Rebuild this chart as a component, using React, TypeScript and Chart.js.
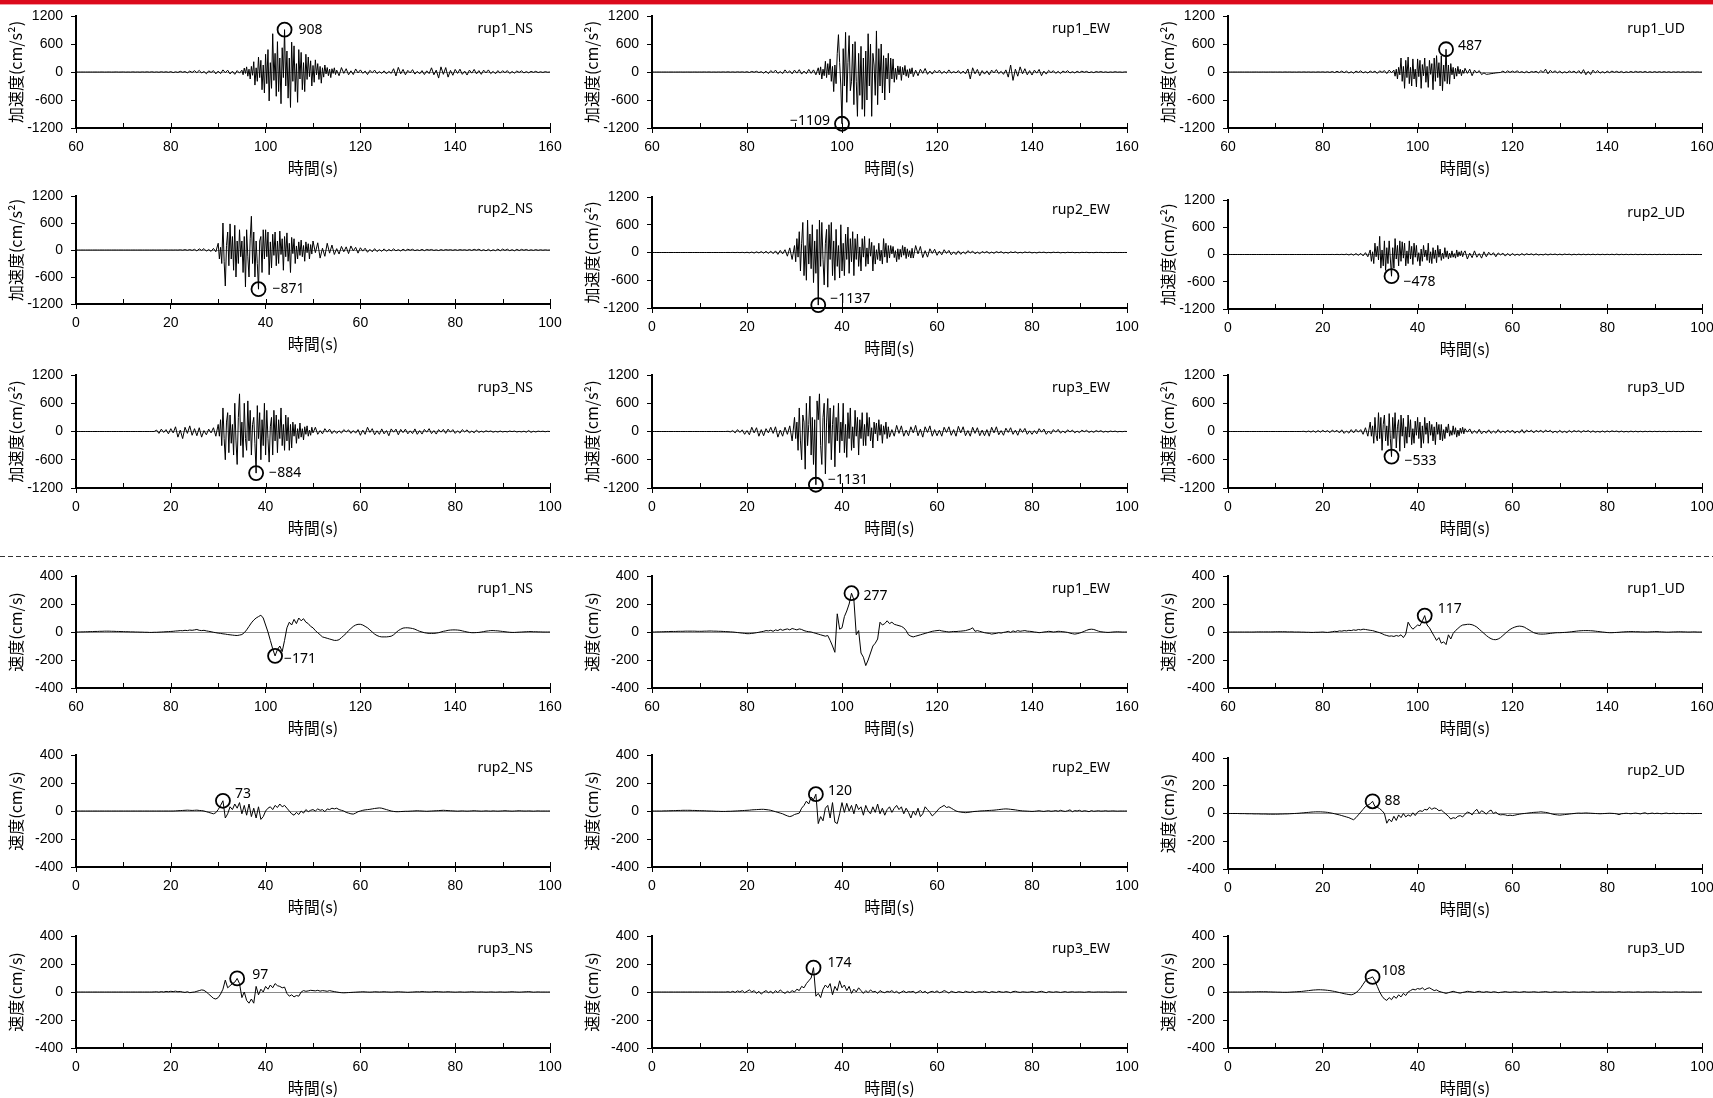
import React, { useEffect, useRef } from 'react';
import { Chart, registerables } from 'chart.js';
Chart.register(...registerables);

// ---------------- DATA ----------------
// time ranges (s)
const T_RUP1 = [60, 160];
const T_RUP23 = [0, 100];
const X_LABELS_RUP1 = [60, 80, 100, 120, 140, 160];
const X_LABELS_RUP23 = [0, 20, 40, 60, 80, 100];
const Y_TICKS_ACC = [-1200, -600, 0, 600, 1200];
const Y_TICKS_VEL = [-400, -200, 0, 200, 400];

// strong-motion windows (s): sampled at 0.25 s; outside them 0.5 s
const W_A1_NS = [95, 115];
const W_A1_EW = [95, 115];
const W_A1_UD = [95, 110];
const W_A2_NS = [30, 50];
const W_A2_EW = [30, 55];
const W_A2_UD = [30, 50];
const W_A3_NS = [30, 50];
const W_A3_EW = [30, 50];
const W_A3_UD = [30, 50];

// ---- acceleration (cm/s2) ----
const A1_NS_PRE = [
  0,0,0,0,0,0,0,0,0,0,
  0,1,-1,0,1,-1,0,2,-1,0,
  2,-2,1,-2,3,-2,2,-3,3,-2,
  4,-3,5,-4,3,-5,6,-4,5,-6,
  8,-12,5,-9,15,-6,10,-18,20,-10,
  28,-15,35,-22,12,-38,25,-10,30,-40,
  20,-35,45,-15,38,-42,18,-50,30,-25,
];
const A1_NS_MAIN = [
  40,-60,85,-30,110,-90,60,-150,120,-70,
  220,-280,90,-200,320,-120,250,-380,150,-450,
  380,-250,480,-620,200,-350,820,-180,400,-520,
  650,-420,300,-680,520,-120,908,-300,450,-560,
  300,-760,640,-200,560,-420,180,-650,480,-150,
  420,-380,200,-420,380,-160,320,-100,240,-300,
  140,-220,260,-60,180,-160,120,-240,90,-110,
  150,-40,95,-80,60,-120,70,-30,90,-55,
];
const A1_NS_POST = [
  40,-80,95,-30,70,-60,25,-55,65,-20,
  45,-30,20,-55,35,-15,40,-35,10,-30,
  25,-40,15,-30,70,-85,100,-40,55,-60,
  35,-20,50,-45,15,-40,30,-55,25,-35,
  90,-60,40,-130,110,-50,95,-110,35,-70,
  55,-30,60,-50,20,-65,40,-25,55,-40,
  30,-50,40,-20,45,-35,15,-38,30,-25,
  28,-15,30,-32,12,-25,22,-10,25,-20,
  10,-18,14,-8,15,-12,6,-10,8,-5,
  0,
];

const A1_EW_PRE = [
  0,0,0,0,0,0,0,0,0,0,
  0,0,1,-1,0,1,-1,0,1,-1,
  1,-1,2,-1,2,-2,1,-2,2,-2,
  3,-2,4,-3,3,-4,5,-3,4,-5,
  6,-10,12,-5,15,-12,8,-25,18,-35,
  30,-15,40,-30,10,-35,45,-20,25,-40,
  40,-25,50,-45,20,-38,55,-30,45,-60,
];
const A1_EW_MAIN = [
  90,-60,110,-150,60,-80,230,-120,180,-60,
  280,-200,120,-420,150,-250,400,800,200,-300,
  -1109,500,-300,850,-650,200,780,-400,-200,600,
  -700,650,-200,-950,400,-500,550,-800,300,-950,
  450,-600,820,-300,600,-950,400,150,-500,880,
  -700,500,-300,600,-450,350,-600,300,-150,400,
  -450,300,-150,280,-220,80,-160,130,-60,120,
  -180,100,-60,140,-90,50,-120,70,-40,90,
];
const A1_EW_POST = [
  -100,40,-80,60,-30,75,-50,20,-45,35,
  -20,40,-35,15,-30,45,-25,10,-20,30,
  -35,20,-40,65,-150,90,-40,55,-80,30,
  -45,25,-60,40,-20,50,-35,15,-50,45,
  -110,150,-180,60,-90,110,-40,70,-60,30,
  -65,40,-25,55,-80,20,-45,35,-15,28,
  -30,15,-35,22,-10,28,-22,8,-20,16,
  -12,18,-6,14,-15,5,-14,10,-4,10,
  -8,5,-9,3,-6,7,-4,2,-6,3,
  0,
];

const A1_UD_PRE = [
  0,0,0,0,0,0,0,0,0,0,
  0,0,1,-1,0,1,-1,0,1,-1,
  1,-1,1,-2,2,-1,2,-2,1,-2,
  2,-2,3,-2,3,-3,2,-3,3,-2,
  4,-5,6,-8,10,-12,15,-10,20,-15,
  18,-22,8,-25,20,-10,25,-20,8,-22,
  20,-10,18,-30,25,-8,30,-35,40,-15,
];
const A1_UD_MAIN = [
  40,-90,60,-150,100,-60,300,-200,120,-350,
  250,-120,320,-250,100,-300,280,-150,60,-320,
  280,-100,250,-350,160,-80,300,-220,120,-330,
  250,-50,180,-380,300,-200,350,-120,200,-300,
  350,-400,150,-200,487,-250,150,-260,180,-60,
  100,-150,80,-90,120,-40,60,-80,40,-30,
];
const A1_UD_POST = [
  80,-30,60,-80,40,-20,30,-55,-20,-50,
  -45,-35,-30,-20,-15,-10,20,-15,25,-10,
  20,-8,25,-12,10,-18,15,-20,12,-5,
  15,-20,30,-10,60,-40,35,-12,25,-20,
  20,-25,8,-20,22,-10,20,-25,30,-35,
  50,-60,15,-55,40,-20,30,-25,10,-22,
  18,-15,20,-8,15,-12,14,-16,6,-10,
  12,-10,14,-6,10,-8,12,-10,8,-9,
  10,-8,9,-7,8,-6,7,-8,6,-5,
  6,-5,5,-4,5,-4,4,-3,3,-2,
  0,
];

const A2_NS_PRE = [
  0,0,0,0,0,0,0,0,0,0,
  0,0,0,0,0,0,0,0,0,0,
  0,0,0,0,0,0,0,0,0,0,
  0,0,0,0,0,0,0,0,1,-1,
  1,-1,2,-2,5,-4,8,-6,10,-8,
  15,-20,25,-8,30,-25,10,-30,35,-40,
];
const A2_NS_MAIN = [
  150,-200,60,-300,600,-250,-800,100,400,-350,
  580,-200,300,-450,550,-600,200,-300,450,-150,
  200,-500,300,-820,450,-150,-600,250,750,-300,
  400,-600,200,-300,-871,200,300,-500,450,-200,
  450,-150,400,-550,180,-400,350,-120,400,-350,
  200,-300,420,-100,250,-450,300,-150,380,-250,
  150,-500,280,-80,250,-300,90,-200,180,-120,
  220,-150,100,-250,180,-60,140,-200,120,-90,
];
const A2_NS_POST = [
  200,-60,160,-180,40,-140,150,-70,110,-100,
  30,-90,80,-40,70,-80,90,-20,60,-70,
  50,-25,40,-50,15,-40,30,-35,10,-30,
  25,-28,12,-20,25,-18,8,-22,18,-15,
  18,-6,16,-14,5,-12,14,-15,12,-4,
  12,-10,4,-12,9,-8,10,-3,8,-7,
  8,-7,9,-3,7,-8,12,-10,15,-5,
  18,-15,8,-18,15,-20,6,-15,20,-18,
  20,-10,18,-15,8,-18,15,-12,14,-6,
  12,-10,5,-8,9,-7,6,-5,4,-3,
  0,
];

const A2_EW_PRE = [
  0,0,0,0,0,0,0,0,0,0,
  0,0,0,0,0,0,0,0,0,0,
  0,0,0,0,0,0,0,0,0,0,
  0,0,1,-1,2,-2,3,-3,4,-5,
  6,-8,10,-12,15,-10,20,-15,25,-20,
  30,-25,35,-40,45,-30,60,-80,100,-150,
];
const A2_EW_MAIN = [
  150,-200,300,-100,450,-400,200,650,-500,150,
  -600,700,-250,400,-350,600,-650,250,-450,500,
  -1137,700,-300,650,-150,-700,200,500,-750,600,
  -150,650,-500,250,-600,500,-300,150,-550,600,
  -400,200,-500,400,-150,550,-450,300,-200,450,
  -500,300,-150,400,-300,120,-400,300,-100,350,
  -300,100,-250,300,-80,220,-400,150,-250,60,
  -150,200,-180,50,-250,300,-100,200,-220,150,
  -120,150,-30,130,-110,40,-200,80,-150,70,
  -100,150,-60,120,-130,80,-90,40,-120,90,
];
const A2_EW_POST = [
  -120,150,-30,130,-110,40,-100,80,-20,70,
  -60,30,-50,60,-20,45,-50,15,-45,35,
  -40,15,-30,40,-10,30,-28,10,-30,22,
  -8,22,-20,10,-18,20,-6,18,-15,5,
  -15,14,-4,15,-13,5,-10,12,-3,10,
  -10,3,-10,8,-2,8,-7,3,-6,7,
  -2,6,-8,2,-6,5,-2,4,-5,1,
  -5,4,-1,5,-4,1,-4,3,-1,3,
  -3,1,-3,2,-1,2,-2,1,-1,1,
  0,
];

const A2_UD_PRE = [
  0,0,0,0,0,0,0,0,0,0,
  0,0,0,0,0,0,0,0,0,0,
  0,0,0,0,0,0,0,0,0,0,
  0,0,0,0,0,0,0,0,0,0,
  0,0,1,-1,2,-2,3,-3,4,-4,
  8,-10,12,-15,20,-18,25,-30,40,-50,
];
const A2_UD_MAIN = [
  100,-150,60,-200,250,-50,180,-120,400,-300,
  100,-250,300,-350,150,-200,300,-100,-478,150,
  -300,350,-100,200,-250,300,-150,280,-80,250,
  -250,80,-200,300,-100,180,-220,250,-60,200,
  -150,40,-250,120,-150,200,-50,100,-130,250,
  -180,60,-200,150,-90,100,-180,200,-60,120,
  -130,30,-90,150,-60,80,-100,30,-70,80,
  -60,20,-80,100,-50,60,-30,80,-50,40,
];
const A2_UD_POST = [
  80,-100,30,-70,80,-60,20,-80,60,-50,
  50,-15,40,-50,35,-10,30,-35,25,-30,
  25,-20,8,-18,20,-15,18,-6,15,-12,
  15,-12,4,-10,12,-11,10,-3,10,-8,
  9,-8,10,-2,8,-9,7,-6,8,-6,
  7,-6,6,-5,7,-5,6,-5,5,-4,
  5,-4,6,-5,8,-6,5,-4,5,-4,
  4,-3,5,-4,4,-3,4,-3,3,-3,
  3,-3,4,-2,3,-2,3,-2,2,-2,
  2,-2,2,-1,2,-1,1,-1,1,-1,
  0,
];

const A3_NS_PRE = [
  0,0,0,0,0,0,0,0,0,0,
  0,0,0,0,0,0,0,0,0,0,
  0,0,0,0,0,0,0,0,0,0,
  0,0,0,0,30,-40,50,-20,40,-50,
  60,-30,100,-120,30,-150,90,-40,120,-80,
  60,-90,80,-120,20,-70,50,-30,80,-100,
];
const A3_NS_MAIN = [
  150,-100,250,-300,500,-150,-600,200,400,-450,
  350,-250,150,-500,600,-200,-700,300,800,-300,
  200,-550,600,-150,-400,650,-200,450,-500,150,
  300,-250,-884,550,-150,400,-600,250,-300,600,
  -500,450,-150,-650,100,300,-500,450,-200,350,
  -450,250,-150,500,-300,150,-400,350,-200,300,
  -400,150,-350,200,-100,150,-250,60,-150,180,
  -120,60,-180,100,-60,120,-100,30,-80,90,
];
const A3_NS_POST = [
  -30,90,-60,20,-50,60,-15,50,-45,20,
  -40,15,-35,40,-10,35,-40,20,-35,40,
  -80,30,-60,90,-20,60,-70,15,-60,55,
  -50,20,-90,55,-15,50,-70,45,-25,50,
  -50,15,-45,55,-60,20,-55,45,-15,60,
  -45,20,-55,40,-15,45,-40,50,-15,40,
  -40,15,-35,40,-10,35,-30,10,-28,30,
  -20,8,-15,16,-5,12,-15,4,-12,10,
  -10,3,-9,10,-3,9,-10,2,-9,7,
  -15,20,-18,5,-10,8,-2,6,-5,4,
  0,
];

const A3_EW_PRE = [
  0,0,0,0,0,0,0,0,0,0,
  0,0,0,0,0,0,0,0,0,0,
  0,0,0,0,0,0,0,0,0,0,
  0,0,5,-8,20,-30,40,-20,35,-60,
  20,-70,90,-30,80,-100,40,-90,60,-30,
  90,-40,100,-120,30,-100,90,-60,120,-200,
];
const A3_EW_MAIN = [
  300,-150,200,-400,500,-200,-600,350,200,-800,
  600,-300,150,750,-500,300,-700,250,-1131,650,
  250,800,-300,-700,300,600,-900,200,700,-250,
  500,-600,150,550,-750,300,-200,600,-450,200,
  -200,600,-450,150,-550,400,-150,500,-400,100,
  -350,450,-100,300,-500,250,-150,400,-300,150,
  -300,400,-100,300,-200,80,-350,200,-50,180,
  -200,250,-80,150,-250,120,-60,200,-150,100,
];
const A3_EW_POST = [
  -120,40,-100,130,-40,120,-100,30,-90,100,
  -30,130,-90,50,-120,100,-20,120,-100,40,
  -90,30,-100,90,-20,100,-80,40,-100,110,
  -30,100,-90,20,-100,90,-40,80,-90,30,
  -90,40,-100,90,-30,100,-70,20,-80,70,
  -20,80,-60,30,-80,60,-20,65,-60,15,
  -60,20,-50,60,-15,50,-60,10,-50,40,
  -15,45,-35,10,-30,35,-12,30,-28,8,
  -25,28,-6,25,-20,8,-18,20,-5,18,
  -15,5,-12,10,-3,8,-8,2,-4,3,
  0,
];

const A3_UD_PRE = [
  0,0,0,0,0,0,0,0,0,0,
  0,0,0,0,0,0,0,0,0,0,
  0,0,0,0,0,0,0,0,0,0,
  0,0,5,-8,10,-12,15,-18,20,-15,
  25,-10,20,-25,30,-8,25,-30,35,-40,
  12,-35,40,-30,45,-15,40,-60,80,-100,
];
const A3_UD_MAIN = [
  200,-100,120,-250,300,-80,-200,400,-150,300,
  -400,150,350,-200,120,-300,380,-150,-533,300,
  -150,400,-350,100,250,-420,350,-100,280,-350,
  100,-250,350,-120,250,-280,60,-250,220,-80,
  300,-150,200,-350,120,-250,300,-60,180,-250,
  220,-80,150,-200,100,-280,200,-60,150,-180,
  150,-200,40,-150,100,-30,160,-100,20,-80,
  120,-60,80,-120,30,-90,70,-40,90,-50,
];
const A3_UD_POST = [
  60,-15,55,-45,20,-40,45,-50,10,-35,
  35,-40,10,-35,40,-30,12,-28,30,-25,
  30,-35,8,-30,40,-35,30,-10,28,-30,
  25,-10,28,-25,30,-8,25,-28,8,-25,
  25,-22,6,-25,22,-18,20,-6,18,-20,
  18,-5,20,-18,15,-16,4,-15,12,-14,
  12,-10,14,-3,10,-11,9,-10,3,-9,
  8,-7,6,-8,5,-6,5,-4,5,-4,
  4,-3,4,-3,3,-4,3,-2,3,-2,
  2,-3,2,-2,2,-1,2,-1,1,-1,
  0,
];

// ---- velocity (cm/s), 0.5 s samples ----
const V1_NS = [
  0,0,1,1,2,2,3,3,4,4,
  5,5,6,6,6,5,5,4,4,3,
  3,2,2,1,1,0,0,-1,-1,-2,
  -2,-3,-3,-2,-2,-1,0,1,2,3,
  4,5,7,8,10,9,12,10,14,12,
  15,18,12,10,12,8,5,2,-2,-5,
  -8,-10,-13,-15,-18,-20,-22,-24,-25,-22,
  -18,-5,15,40,65,85,100,110,120,100,
  50,0,-60,-120,-171,-125,-100,-140,-60,30,
  70,50,90,60,100,80,95,70,60,40,
  30,10,-5,-20,-35,-40,-45,-50,-55,-60,
  -60,-55,-40,-25,-10,10,25,40,50,55,
  55,50,40,30,15,0,-15,-25,-32,-35,
  -35,-35,-33,-30,-20,-5,10,20,28,30,
  30,28,25,20,12,5,0,-5,-8,-10,
  -10,-10,-8,-5,0,5,8,12,14,15,
  15,14,12,8,4,0,-3,-5,-5,-4,
  -3,0,3,6,8,10,10,9,8,6,
  4,2,0,-2,-3,-3,-2,-1,0,1,
  2,3,3,2,2,1,1,0,0,0,
  0,
];
const V1_EW = [
  0,0,1,1,2,2,3,3,4,4,
  4,5,5,5,6,6,6,6,6,5,
  5,5,6,6,7,7,6,6,5,5,
  4,3,2,1,0,-2,-4,-6,-8,-10,
  -12,-12,-10,-8,-5,-2,2,5,10,8,
  12,5,15,10,20,12,18,22,15,25,
  20,15,22,18,10,5,2,0,-5,-10,
  -15,-20,-25,-30,-25,-60,-100,-145,130,20,
  30,110,150,200,277,230,-20,10,-150,-180,
  -240,-200,-150,-100,-80,-50,70,50,60,80,
  60,70,55,50,45,40,30,10,-20,-30,
  -35,-30,-25,-20,-15,-10,-5,0,5,8,
  10,12,8,5,3,0,2,4,3,5,
  6,8,10,15,20,30,5,10,5,0,
  -5,-8,-10,-15,-12,-10,-5,-8,-3,0,
  5,-3,8,2,10,5,8,10,6,5,
  3,0,-2,-5,-3,0,2,5,3,0,
  2,5,4,2,0,-3,-8,-12,-15,-12,
  -8,-2,5,12,18,20,18,12,6,2,
  0,-2,-3,-2,0,1,2,1,0,0,
  0,
];
const V1_UD = [
  0,0,0,0,0,0,0,0,0,0,
  0,0,1,1,1,1,1,1,1,1,
  2,2,2,2,2,1,1,1,0,0,
  0,-1,-1,-2,-2,-3,-3,-2,-2,-1,
  0,-2,-3,-1,2,5,3,8,6,10,
  8,12,10,15,12,18,15,20,18,15,
  12,10,5,0,-5,-12,-20,-25,-30,-28,
  -32,-25,-30,-20,-40,-15,70,40,20,35,
  50,45,80,117,50,30,0,-30,-60,-40,
  -80,-70,-90,-20,-50,-10,10,25,40,50,
  52,55,55,52,45,35,20,5,-10,-25,
  -38,-48,-54,-55,-50,-40,-25,-10,5,18,
  28,35,40,42,40,35,25,15,5,-5,
  -10,-14,-15,-15,-14,-12,-10,-8,-6,-5,
  -5,-4,-3,-2,0,2,4,6,8,9,
  10,10,10,9,8,6,4,2,0,-2,
  -4,-5,-5,-4,-3,-2,0,1,2,3,
  3,3,2,2,1,1,0,0,1,2,
  3,3,2,1,0,-1,-1,0,1,1,
  2,2,1,1,0,0,1,1,0,0,
  0,
];
const V2_NS = [
  0,0,0,0,0,0,0,0,0,0,
  0,0,0,0,0,0,0,0,0,0,
  0,0,0,0,0,0,0,0,0,0,
  0,0,0,0,0,0,0,0,0,0,
  0,0,1,2,3,4,5,6,5,4,
  5,6,4,3,0,-5,-10,-15,-20,-12,
  10,40,73,-50,-20,30,10,50,20,60,
  -20,40,-30,50,-40,20,-50,30,-60,-40,
  0,20,30,10,40,25,50,30,40,20,
  0,-20,-30,-10,-25,0,-15,10,-5,5,
  10,0,15,5,10,-5,15,10,20,15,
  20,10,5,0,-10,-15,-20,-22,-15,-5,
  0,5,8,10,12,15,18,20,22,20,
  15,10,5,0,-3,-5,-5,-4,-3,-2,
  -2,-1,0,1,2,1,0,-1,-2,-1,
  0,1,2,3,4,5,4,3,2,1,
  0,-1,0,1,0,-1,0,1,2,1,
  0,-1,0,1,0,-1,1,0,-1,0,
  1,2,1,0,-1,0,1,2,1,0,
  0,1,0,-1,0,1,0,0,0,0,
  0,
];
const V2_EW = [
  0,0,0,0,0,1,1,2,2,3,
  3,4,4,5,5,5,5,4,4,3,
  3,2,2,1,0,0,-1,-2,-2,-3,
  -3,-3,-2,-2,-1,0,1,2,3,4,
  5,6,8,9,10,11,12,12,10,8,
  5,0,-5,-10,-15,-20,-28,-35,-40,-35,
  -25,-20,-15,20,40,70,50,100,80,120,
  -90,-40,-70,20,40,-50,60,-80,-90,-20,
  60,-10,55,0,40,-20,50,10,30,-30,
  40,0,-20,30,-10,50,-20,20,-30,10,
  30,-10,20,40,10,30,-20,20,-10,-50,
  0,-30,20,-40,-20,30,10,-10,-35,-20,
  0,20,30,40,25,30,20,10,0,-5,
  -8,-10,-12,-10,-8,-5,-3,-2,0,1,
  2,3,4,5,6,8,10,12,14,15,
  14,12,10,8,5,3,1,0,-1,-2,
  -3,-2,0,2,-1,-3,0,2,-2,0,
  3,-2,5,0,-3,2,8,-5,3,0,
  5,-3,2,0,-5,3,-2,0,2,-1,
  0,2,-1,0,1,0,-1,0,0,0,
  0,
];
const V2_UD = [
  0,0,0,0,0,-1,-1,-1,-2,-2,
  -2,-3,-3,-3,-4,-4,-4,-5,-5,-5,
  -5,-5,-4,-4,-3,-3,-2,-1,0,1,
  2,4,5,7,8,10,11,12,12,12,
  11,10,8,5,2,-2,-6,-10,-15,-20,
  -25,-30,-38,-45,-30,-10,10,30,50,60,
  70,88,50,45,35,20,0,-70,-40,-60,
  -20,-50,-10,-30,0,-25,-10,-20,5,-15,
  10,20,15,30,25,45,30,40,35,20,
  25,10,-5,-20,-40,-30,-35,-20,-15,-25,
  -5,10,5,-10,15,30,0,20,10,-5,
  15,25,0,10,-5,-10,-8,-10,-15,-12,
  -15,-12,-8,-5,-2,0,2,4,6,8,
  9,10,12,10,8,5,0,-5,-8,-10,
  -12,-10,-8,-6,-4,-2,0,2,3,2,
  3,4,3,2,1,0,-1,-2,-1,0,
  1,2,1,0,-3,-8,-2,0,2,0,
  -2,1,3,0,-3,2,5,-2,0,3,
  -1,2,0,-2,1,3,-1,0,2,-1,
  0,1,-1,0,1,0,-1,0,0,0,
  0,
];
const V3_NS = [
  0,0,0,0,0,0,0,0,0,0,
  0,0,0,0,0,0,0,0,0,0,
  0,0,0,0,0,0,0,0,0,0,
  0,0,0,1,2,-1,3,0,4,2,
  5,3,6,2,4,0,-3,2,-5,-2,
  0,5,10,15,12,0,-15,-30,-45,-50,
  -40,-15,20,85,30,45,60,70,97,60,
  -40,0,-60,-80,-50,-80,40,-20,20,0,
  40,20,50,30,60,45,40,30,35,-10,
  -30,-20,-35,-25,-30,0,10,5,8,12,
  10,8,12,6,10,8,5,10,6,3,
  0,-3,-5,-6,-5,-4,-3,-2,-1,0,
  1,2,1,0,-1,0,2,1,0,1,
  2,1,0,-1,0,1,2,1,0,-1,
  -2,-1,0,1,2,1,3,2,1,0,
  1,2,3,2,1,0,1,2,1,0,
  -1,0,1,0,-1,0,1,2,1,0,
  0,1,0,-1,0,1,0,-1,0,1,
  0,-1,0,1,2,1,0,-1,0,1,
  2,3,1,-1,0,1,0,0,0,0,
  0,
];
const V3_EW = [
  0,0,0,0,0,0,0,0,0,0,
  0,0,0,0,0,0,0,0,0,0,
  0,0,0,0,0,0,0,0,0,0,
  0,0,2,-2,5,-3,8,0,10,-5,
  5,15,0,10,-10,5,-15,0,10,-5,
  5,-10,10,-5,15,0,-10,5,-5,10,
  0,20,10,40,30,60,80,100,174,-30,
  -10,-40,20,50,30,60,-20,40,10,80,
  30,50,10,40,-10,20,0,30,10,-10,
  10,-5,15,0,5,-10,10,0,-5,5,
  0,10,-5,5,-10,0,8,-5,3,0,
  5,-8,0,10,-5,5,-10,0,5,-3,
  8,-5,0,10,3,-8,5,0,-5,3,
  0,-5,5,0,-3,5,-5,0,3,-2,
  5,0,-5,3,0,-3,5,0,-2,3,
  0,-5,3,5,0,-3,2,0,-2,0,
  3,0,-3,2,5,0,-5,3,0,-2,
  2,0,-3,0,3,-2,0,2,-1,0,
  1,0,-2,0,2,0,-1,0,1,0,
  0,1,0,-1,0,0,1,0,0,0,
  0,
];
const V3_UD = [
  0,0,0,0,0,0,0,0,1,1,
  1,1,2,2,2,2,2,1,1,0,
  0,-1,-1,-2,-2,-2,-1,0,1,2,
  3,4,6,8,10,12,14,15,16,16,
  15,14,12,10,7,4,0,-4,-8,-12,
  -15,-18,-20,-15,-5,10,30,55,80,95,
  100,108,80,40,0,-30,-50,-60,-40,-55,
  -30,-45,-20,-35,-10,-25,0,10,20,15,
  25,20,30,15,25,30,20,10,15,5,
  0,-5,-10,-5,0,5,0,-5,-8,-3,
  0,5,3,0,-3,2,5,0,-2,3,
  0,-3,2,0,-5,-2,0,3,0,-2,
  0,2,0,-2,0,3,0,-1,0,2,
  0,-2,0,1,3,0,-2,0,2,0,
  -1,0,2,0,-2,0,1,0,-1,0,
  1,0,-1,0,2,0,-1,0,1,0,
  0,1,0,-1,0,2,0,-1,0,1,
  0,-1,0,1,0,-1,0,1,0,0,
  1,0,-1,0,1,0,0,-1,0,1,
  0,0,1,0,0,-1,0,0,0,0,
  0,
];

type Seg = [number[], number, number];
function acc3(pre: number[], main: number[], post: number[], range: number[], w: number[]): Seg[] {
  return [[pre, range[0], w[0]], [main, w[0], w[1]], [post, w[1], range[1]]];
}

const PANELS = [
  { name: 'rup1_NS', segs: acc3(A1_NS_PRE, A1_NS_MAIN, A1_NS_POST, T_RUP1, W_A1_NS), range: T_RUP1, xLabels: X_LABELS_RUP1, kind: 'acc' },
  { name: 'rup1_EW', segs: acc3(A1_EW_PRE, A1_EW_MAIN, A1_EW_POST, T_RUP1, W_A1_EW), range: T_RUP1, xLabels: X_LABELS_RUP1, kind: 'acc' },
  { name: 'rup1_UD', segs: acc3(A1_UD_PRE, A1_UD_MAIN, A1_UD_POST, T_RUP1, W_A1_UD), range: T_RUP1, xLabels: X_LABELS_RUP1, kind: 'acc' },
  { name: 'rup2_NS', segs: acc3(A2_NS_PRE, A2_NS_MAIN, A2_NS_POST, T_RUP23, W_A2_NS), range: T_RUP23, xLabels: X_LABELS_RUP23, kind: 'acc' },
  { name: 'rup2_EW', segs: acc3(A2_EW_PRE, A2_EW_MAIN, A2_EW_POST, T_RUP23, W_A2_EW), range: T_RUP23, xLabels: X_LABELS_RUP23, kind: 'acc' },
  { name: 'rup2_UD', segs: acc3(A2_UD_PRE, A2_UD_MAIN, A2_UD_POST, T_RUP23, W_A2_UD), range: T_RUP23, xLabels: X_LABELS_RUP23, kind: 'acc' },
  { name: 'rup3_NS', segs: acc3(A3_NS_PRE, A3_NS_MAIN, A3_NS_POST, T_RUP23, W_A3_NS), range: T_RUP23, xLabels: X_LABELS_RUP23, kind: 'acc' },
  { name: 'rup3_EW', segs: acc3(A3_EW_PRE, A3_EW_MAIN, A3_EW_POST, T_RUP23, W_A3_EW), range: T_RUP23, xLabels: X_LABELS_RUP23, kind: 'acc' },
  { name: 'rup3_UD', segs: acc3(A3_UD_PRE, A3_UD_MAIN, A3_UD_POST, T_RUP23, W_A3_UD), range: T_RUP23, xLabels: X_LABELS_RUP23, kind: 'acc' },
  { name: 'rup1_NS', segs: [[V1_NS, 60, 160]] as Seg[], range: T_RUP1, xLabels: X_LABELS_RUP1, kind: 'vel' },
  { name: 'rup1_EW', segs: [[V1_EW, 60, 160]] as Seg[], range: T_RUP1, xLabels: X_LABELS_RUP1, kind: 'vel' },
  { name: 'rup1_UD', segs: [[V1_UD, 60, 160]] as Seg[], range: T_RUP1, xLabels: X_LABELS_RUP1, kind: 'vel' },
  { name: 'rup2_NS', segs: [[V2_NS, 0, 100]] as Seg[], range: T_RUP23, xLabels: X_LABELS_RUP23, kind: 'vel' },
  { name: 'rup2_EW', segs: [[V2_EW, 0, 100]] as Seg[], range: T_RUP23, xLabels: X_LABELS_RUP23, kind: 'vel' },
  { name: 'rup2_UD', segs: [[V2_UD, 0, 100]] as Seg[], range: T_RUP23, xLabels: X_LABELS_RUP23, kind: 'vel' },
  { name: 'rup3_NS', segs: [[V3_NS, 0, 100]] as Seg[], range: T_RUP23, xLabels: X_LABELS_RUP23, kind: 'vel' },
  { name: 'rup3_EW', segs: [[V3_EW, 0, 100]] as Seg[], range: T_RUP23, xLabels: X_LABELS_RUP23, kind: 'vel' },
  { name: 'rup3_UD', segs: [[V3_UD, 0, 100]] as Seg[], range: T_RUP23, xLabels: X_LABELS_RUP23, kind: 'vel' },
];

// ---------------- LAYOUT / STYLE ----------------
const COL_L = [76, 652, 1228];
const COL_R = [550, 1127, 1702];
// [top, bottom] of plot area per panel
const ROWS_TB = [
  [16, 128], [16, 128], [16, 128],
  [196, 304], [197, 308], [200, 309],
  [375, 488], [375, 488], [375, 488],
  [576, 688], [576, 688], [576, 688],
  [755, 867], [755, 867], [758, 869],
  [936, 1048], [936, 1048], [936, 1048],
];
// peak label offsets (px) and alignment
const LABEL_POS = [
  [14, 0, 'left'], [-12, -3, 'right'], [12, -3, 'left'],
  [14, 0, 'left'], [12, -6, 'left'], [12, 6, 'left'],
  [13, 0, 'left'], [12, -5, 'left'], [13, 4, 'left'],
  [9, 3, 'left'], [12, 3, 'left'], [13, -7, 'left'],
  [12, -7, 'left'], [12, -3, 'left'], [12, 0, 'left'],
  [15, -3, 'left'], [14, -5, 'left'], [9, -6, 'left'],
];

const PAD_LEFT = 72;
const PAD_RIGHT = 20;
const PAD_TOP = 20;
const PAD_BOTTOM = 52;

const TICK_FONT = "'Liberation Sans', Arial, sans-serif";
const CJK_FONT = "'Noto Sans CJK JP', sans-serif";
const LABEL_FONT = "'Noto Sans', 'Liberation Sans', sans-serif";

function fmtPeak(v: number): string {
  return v < 0 ? '\u2212' + Math.abs(v) : String(v);
}

function buildPoints(segs: Seg[]) {
  const pts: { x: number; y: number }[] = [];
  segs.forEach(([vals, a, b], si) => {
    const last = si === segs.length - 1;
    const n = vals.length;
    const dt = (b - a) / (last ? n - 1 : n);
    vals.forEach((v, i) => pts.push({ x: a + i * dt, y: v }));
  });
  return pts;
}

function Panel({ idx }: { idx: number }) {
  const ref = useRef<HTMLCanvasElement | null>(null);
  const p = PANELS[idx];
  const col = idx % 3;
  const L = COL_L[col];
  const R = COL_R[col];
  const [T, B] = ROWS_TB[idx];
  const width = R - L + PAD_LEFT + PAD_RIGHT;
  const height = B - T + PAD_TOP + PAD_BOTTOM;

  useEffect(() => {
    if (!ref.current) return;
    const [t0, t1] = p.range;
    const pts = buildPoints(p.segs);
    let pk = 0;
    for (let i = 1; i < pts.length; i++) if (Math.abs(pts[i].y) > Math.abs(pts[pk].y)) pk = i;
    const peak = pts[pk];
    const yTicks = p.kind === 'acc' ? Y_TICKS_ACC : Y_TICKS_VEL;
    const yTitle = p.kind === 'acc' ? '加速度(cm/s²)' : '速度(cm/s)';
    const [ldx, ldy, lalign] = LABEL_POS[idx] as [number, number, CanvasTextAlign];
    const majors = p.xLabels;
    const xStep = 10;

    const annot = {
      id: 'annot' + idx,
      afterDatasetsDraw(chart: any) {
        const { ctx, chartArea, scales } = chart;
        const xs = scales.x;
        const ys = scales.y;
        ctx.save();
        // inner tick marks on the time axis (major ticks cross the axis)
        ctx.strokeStyle = '#000';
        ctx.lineWidth = 1;
        for (let v = t0; v <= t1; v += xStep) {
          const px = Math.round(xs.getPixelForValue(v)) + 0.5;
          ctx.beginPath();
          ctx.moveTo(px, chartArea.bottom);
          ctx.lineTo(px, chartArea.bottom - 5);
          ctx.stroke();
        }
        ctx.fillStyle = '#000';
        ctx.textBaseline = 'middle';
        ctx.font = '14px ' + LABEL_FONT;
        ctx.textAlign = 'right';
        ctx.fillText(p.name, chartArea.right - 17, chartArea.top + 13);
        const px = xs.getPixelForValue(peak.x);
        const py = ys.getPixelForValue(peak.y);
        ctx.font = '14px ' + LABEL_FONT;
        ctx.textAlign = lalign;
        ctx.fillText(fmtPeak(peak.y), px + ldx, py + ldy);
        ctx.restore();
      },
    };

    const chart = new Chart(ref.current, {
      type: 'line',
      data: {
        datasets: [
          {
            data: [peak],
            showLine: false,
            pointRadius: 7,
            pointHoverRadius: 7,
            pointBorderWidth: 1.8,
            pointBorderColor: '#000',
            pointBackgroundColor: 'rgba(0,0,0,0)',
            clip: false,
          } as any,
          {
            data: pts,
            borderColor: '#000',
            borderWidth: 1,
            pointRadius: 0,
            tension: 0,
            fill: false,
          },
        ],
      },
      options: {
        animation: false,
        responsive: false,
        events: [],
        layout: { padding: { top: PAD_TOP, right: PAD_RIGHT, left: 0, bottom: 0 } },
        plugins: { legend: { display: false }, tooltip: { enabled: false } },
        scales: {
          x: {
            type: 'linear',
            min: t0,
            max: t1,
            afterFit: (s: any) => { s.height = PAD_BOTTOM; },
            ticks: {
              stepSize: xStep,
              autoSkip: false,
              maxRotation: 0,
              padding: 6,
              color: '#000',
              font: { family: TICK_FONT, size: 14 },
              callback: (v: any) => (majors.includes(v) ? String(v) : ''),
            },
            grid: {
              drawOnChartArea: false,
              drawTicks: true,
              tickLength: 5,
              tickColor: (c: any) => (c.tick && majors.includes(c.tick.value) ? '#000' : 'rgba(0,0,0,0)'),
            },
            border: { color: '#000', width: 2 },
            title: {
              display: true,
              text: '時間(s)',
              color: '#000',
              font: { family: CJK_FONT, size: 16 },
              padding: { top: 0, bottom: 2 },
            },
          },
          y: {
            min: yTicks[0],
            max: yTicks[yTicks.length - 1],
            afterFit: (s: any) => { s.width = PAD_LEFT; },
            ticks: {
              stepSize: yTicks[1] - yTicks[0],
              padding: 8,
              color: '#000',
              font: { family: TICK_FONT, size: 14 },
              callback: (v: any) => String(v),
            },
            grid: {
              drawOnChartArea: true,
              drawTicks: true,
              tickLength: 5,
              tickColor: '#000',
              color: (c: any) => (c.tick && c.tick.value === 0 ? '#8a8a8a' : 'rgba(0,0,0,0)'),
            },
            border: { color: '#000', width: 2 },
            title: {
              display: true,
              text: yTitle,
              color: '#000',
              font: { family: CJK_FONT, size: 16 },
              padding: { top: 2, bottom: 0 },
            },
          },
        },
      } as any,
      plugins: [annot],
    });
    return () => chart.destroy();
  }, [idx]);

  return (
    <canvas
      ref={ref}
      width={width}
      height={height}
      style={{ position: 'absolute', left: L - PAD_LEFT, top: T - PAD_TOP, width, height }}
    />
  );
}

export default function App() {
  return (
    <div
      style={{
        position: 'absolute',
        left: 0,
        top: 0,
        width: 1713,
        height: 1098,
        overflow: 'hidden',
        background: '#fff',
      }}
    >
      <div style={{ position: 'absolute', left: 0, top: 0, width: 1713, height: 4, background: '#dc0a1c' }} />
      <div style={{ position: 'absolute', left: 0, top: 4, width: 1713, height: 1, background: '#f29aa3' }} />
      <svg style={{ position: 'absolute', left: 0, top: 552, width: 1713, height: 8 }} width={1713} height={8}>
        <line x1={0} y1={4.5} x2={1713} y2={4.5} stroke="#333" strokeWidth={1} strokeDasharray="5 3" />
      </svg>
      {PANELS.map((_, i) => (
        <Panel key={i} idx={i} />
      ))}
    </div>
  );
}
